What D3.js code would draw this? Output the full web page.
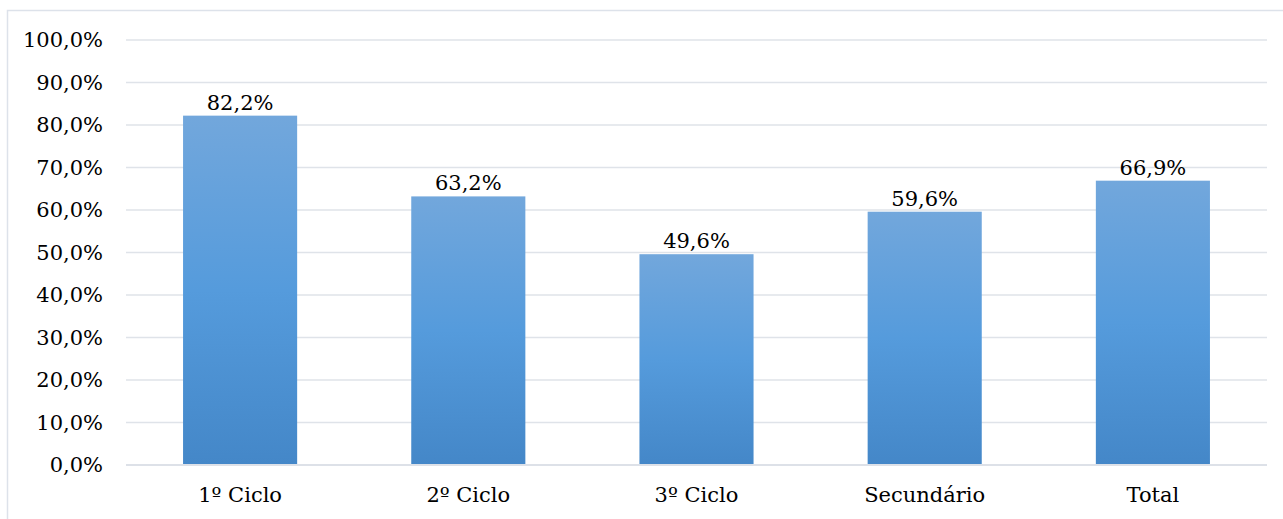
<!DOCTYPE html>
<html>
<head>
<meta charset="utf-8">
<script src="https://cdn.jsdelivr.net/npm/d3@7"></script>
<style>
  body { margin: 0; background: #fff; }
  text { font-family: "DejaVu Serif", serif; fill: #000; }
</style>
</head>
<body>
<div id="chart"></div>
<script>
// Chart data
var categories = ["1º Ciclo", "2º Ciclo", "3º Ciclo", "Secundário", "Total"];
var values = [82.2, 63.2, 49.6, 59.6, 66.9];
var yTicks = [0, 10, 20, 30, 40, 50, 60, 70, 80, 90, 100];

var w = 1283;
var h = 519;
var margin = {top: 40, right: 16, bottom: 54, left: 126};
var fontSize = "21px";

var svg = d3.select("#chart")
    .append("svg")
    .attr("width", w)
    .attr("height", h);

// outer frame (runs off right and bottom edge)
svg.append("rect")
    .attr("x", 7.5)
    .attr("y", 10.5)
    .attr("width", w)
    .attr("height", h)
    .attr("fill", "none")
    .attr("stroke", "#dde2ea")
    .attr("stroke-width", 1.5);

var xScale = d3.scaleBand()
    .domain(categories)
    .range([margin.left, w - margin.right])
    .paddingInner(0.5)
    .paddingOuter(0.25);

var yScale = d3.scaleLinear()
    .domain([0, 100])
    .range([h - margin.bottom, margin.top]);

// bar gradient
var grad = svg.append("defs")
    .append("linearGradient")
    .attr("id", "barGrad")
    .attr("x1", 0).attr("y1", 0)
    .attr("x2", 0).attr("y2", 1);
grad.append("stop").attr("offset", "0%").attr("stop-color", "#72a7dc");
grad.append("stop").attr("offset", "50%").attr("stop-color", "#559bdc");
grad.append("stop").attr("offset", "100%").attr("stop-color", "#4487c8");

// gridlines
svg.append("g")
    .selectAll("line")
    .data(yTicks)
    .enter()
    .append("line")
    .attr("x1", margin.left)
    .attr("x2", w - margin.right)
    .attr("y1", function(d) { return yScale(d); })
    .attr("y2", function(d) { return yScale(d); })
    .attr("stroke", "#dfe3e9")
    .attr("stroke-width", 1.5);

// y axis labels
var yAxis = d3.axisLeft(yScale)
    .tickValues(yTicks)
    .tickSize(0)
    .tickPadding(23)
    .tickFormat(function(d) { return d.toFixed(1).replace(".", ",") + "%"; });

svg.append("g")
    .attr("transform", "translate(" + margin.left + ",0)")
    .call(yAxis)
    .call(function(g) { g.select(".domain").remove(); })
    .selectAll("text")
    .style("font-family", "DejaVu Serif, serif")
    .style("font-size", fontSize)
    .attr("fill", "#000");

// bars
svg.selectAll("rect.bar")
    .data(values)
    .enter()
    .append("rect")
    .attr("class", "bar")
    .attr("x", function(d, i) { return xScale(categories[i]); })
    .attr("y", function(d) { return yScale(d); })
    .attr("width", xScale.bandwidth())
    .attr("height", function(d) { return yScale(0) - yScale(d); })
    .attr("fill", "url(#barGrad)");

// value labels
svg.selectAll("text.val")
    .data(values)
    .enter()
    .append("text")
    .attr("class", "val")
    .text(function(d) { return d.toFixed(1).replace(".", ",") + "%"; })
    .attr("text-anchor", "middle")
    .attr("font-size", fontSize)
    .attr("x", function(d, i) { return xScale(categories[i]) + xScale.bandwidth() / 2; })
    .attr("y", function(d) { return yScale(d) - 6; });

// x axis line + labels
svg.append("line")
    .attr("x1", margin.left)
    .attr("x2", w - margin.right)
    .attr("y1", yScale(0))
    .attr("y2", yScale(0))
    .attr("stroke", "#dde1e8")
    .attr("stroke-width", 2);

var xAxis = d3.axisBottom(xScale).tickSize(0).tickPadding(22);
svg.append("g")
    .attr("transform", "translate(0," + yScale(0) + ")")
    .call(xAxis)
    .call(function(g) { g.select(".domain").remove(); })
    .selectAll("text")
    .style("font-family", "DejaVu Serif, serif")
    .style("font-size", fontSize)
    .attr("fill", "#000");
</script>
</body>
</html>
